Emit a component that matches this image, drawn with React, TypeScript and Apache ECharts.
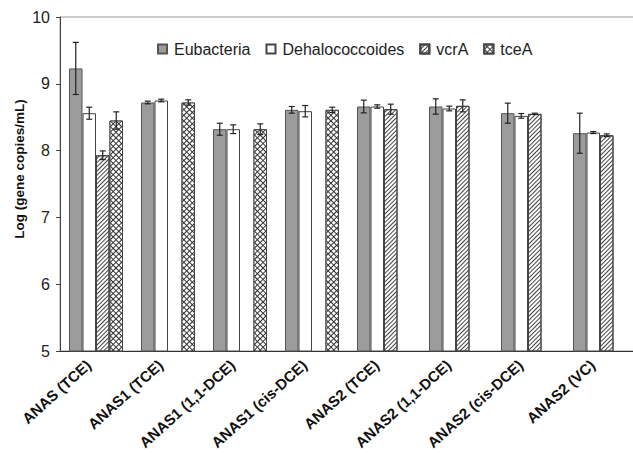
import React, { useEffect, useRef } from "react";
import * as echarts from "echarts";

const categories = [
  "ANAS (TCE)",
  "ANAS1 (TCE)",
  "ANAS1 (1,1-DCE)",
  "ANAS1 (cis-DCE)",
  "ANAS2 (TCE)",
  "ANAS2 (1,1-DCE)",
  "ANAS2 (cis-DCE)",
  "ANAS2 (VC)",
];
const seriesNames = ["Eubacteria", "Dehalococcoides", "vcrA", "tceA"];
const eubacteria = [9.23, 8.72, 8.32, 8.61, 8.66, 8.66, 8.56, 8.26];
const eubacteriaErr = [0.39, 0.02, 0.09, 0.05, 0.095, 0.115, 0.15, 0.3];
const dehalococcoides = [8.56, 8.75, 8.32, 8.59, 8.66, 8.63, 8.52, 8.27];
const dehalococcoidesErr = [0.09, 0.02, 0.065, 0.085, 0.025, 0.035, 0.035, 0.015];
const vcrA = [7.93, null, null, null, 8.62, 8.67, 8.55, 8.23];
const vcrAErr = [0.065, null, null, null, 0.075, 0.09, 0.01, 0.02];
const tceA = [8.45, 8.72, 8.32, 8.61, null, null, null, null];
const tceAErr = [0.13, 0.04, 0.08, 0.04, null, null, null, null];
const yTicks = [5, 6, 7, 8, 9, 10];

const FONT = "'Liberation Sans', Arial, Helvetica, sans-serif";
const CAT_GAP = 0.25;

export default function App() {
  const ref = useRef<HTMLDivElement>(null);
  useEffect(() => {
    document.body.style.margin = "0";
    const chart = echarts.init(ref.current!, null, { renderer: "svg" });
    const values = [eubacteria, dehalococcoides, vcrA, tceA];
    const errs = [eubacteriaErr, dehalococcoidesErr, vcrAErr, tceAErr];
    const styles: any[] = [
      { color: "#9c9c9c", borderColor: "#555", borderWidth: 1 },
      { color: "#ffffff", borderColor: "#444", borderWidth: 1 },
      {
        color: "#ffffff",
        borderColor: "#444",
        borderWidth: 1,
        decal: {
          symbol: "rect",
          symbolSize: 1,
          color: "#444",
          dashArrayX: [1, 0],
          dashArrayY: [1, 2],
          rotation: -Math.PI / 4,
        },
      },
      {
        color: "#333333",
        borderColor: "#444",
        borderWidth: 1,
        decal: {
          symbol: "rect",
          symbolSize: 1,
          color: "#ffffff",
          dashArrayX: [3, 1],
          dashArrayY: [3, 1],
          rotation: Math.PI / 4,
        },
      },
    ];
    const barSeries = seriesNames.map((name, i) => ({
      name,
      type: "bar",
      data: values[i],
      barGap: "0%",
      barCategoryGap: CAT_GAP * 100 + "%",
      itemStyle: styles[i],
      z: 2,
    }));
    const errSeries = seriesNames.map((name, si) => ({
      type: "custom",
      name: name + " err",
      z: 5,
      silent: true,
      encode: { x: 0, y: 1 },
      data: values[si]
        .map((v, ci) => (v == null ? null : [ci, v, errs[si][ci]]))
        .filter((d) => d != null),
      renderItem: (params: any, api: any) => {
        const ci = api.value(0);
        const v = api.value(1);
        const e = api.value(2);
        const c = api.coord([ci, v]);
        const bw = api.size([1, 0])[0];
        const used = bw * (1 - CAT_GAP);
        const barW = used / 4;
        const x = c[0] - used / 2 + barW * (si + 0.5);
        const top = api.coord([ci, v + e])[1];
        const bot = api.coord([ci, v - e])[1];
        const cap = 3;
        const st = { stroke: "#222", lineWidth: 1.2 };
        return {
          type: "group",
          children: [
            { type: "line", shape: { x1: x, y1: top, x2: x, y2: bot }, style: st },
            { type: "line", shape: { x1: x - cap, y1: top, x2: x + cap, y2: top }, style: st },
            { type: "line", shape: { x1: x - cap, y1: bot, x2: x + cap, y2: bot }, style: st },
          ],
        };
      },
    }));
    chart.setOption({
      animation: false,
      backgroundColor: "#ffffff",
      grid: {
        left: 60,
        right: -3,
        top: 17,
        bottom: 102,
        containLabel: false,
        outerBoundsMode: "none",
        show: true,
        borderColor: "#999",
        borderWidth: 1,
      },
      legend: {
        data: seriesNames,
        icon: "rect",
        left: 157,
        top: 41,
        padding: 0,
        itemWidth: 9,
        itemHeight: 9,
        itemGap: 15,
        textStyle: { fontFamily: FONT, fontSize: 16, color: "#222", padding: [0, 0, 0, 2] },
      },
      xAxis: {
        type: "category",
        data: categories,
        axisLine: { lineStyle: { color: "#333", width: 1 } },
        axisTick: { show: false },
        axisLabel: {
          rotate: 42,
          interval: 0,
          margin: 5,
          padding: [0, 10, 0, 0],
          fontFamily: FONT,
          fontSize: 15,
          fontWeight: "bold",
          color: "#111",
        },
      },
      yAxis: {
        type: "value",
        min: yTicks[0],
        max: yTicks[yTicks.length - 1],
        interval: 1,
        axisLine: { show: true, lineStyle: { color: "#444" } },
        axisTick: { show: true, length: 4, lineStyle: { color: "#444" } },
        splitLine: { show: false },
        axisLabel: { fontFamily: FONT, fontSize: 16, color: "#222", margin: 10 },
      },
      graphic: [
        {
          type: "text",
          x: 19,
          y: 169,
          rotation: Math.PI / 2,
          style: {
            text: "Log (gene copies/mL)",
            fontFamily: FONT,
            fontSize: 13.5,
            fontWeight: "bold",
            fill: "#111",
            align: "center",
            verticalAlign: "middle",
          },
        },
      ],
      series: [...barSeries, ...errSeries],
    });
    return () => chart.dispose();
  }, []);
  return <div ref={ref} style={{ width: 633, height: 453 }} />;
}
